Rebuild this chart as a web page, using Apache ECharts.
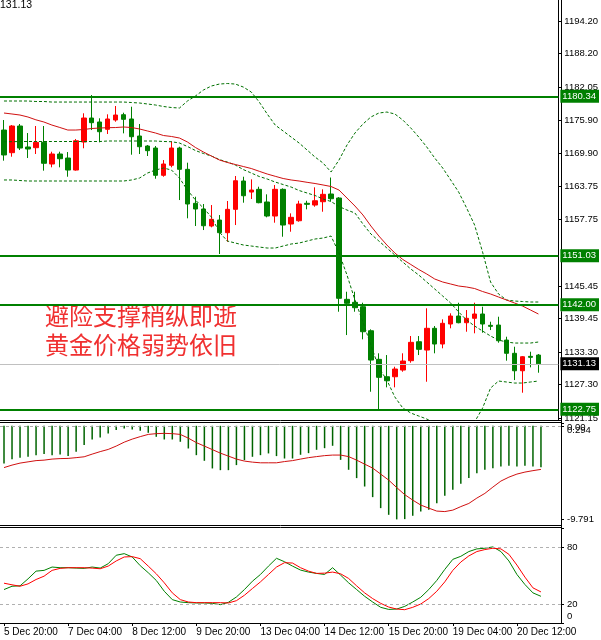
<!DOCTYPE html>
<html><head><meta charset="utf-8">
<script src="https://cdn.jsdelivr.net/npm/echarts@6/dist/echarts.min.js"></script>
<style>html,body{margin:0;padding:0;background:#fff}#c{width:601px;height:640px}</style>
</head><body><div id="c"></div>
<script>
// ---- data ----
const xLabels = ['5 Dec 20:00','7 Dec 04:00','8 Dec 12:00','9 Dec 20:00','13 Dec 04:00','14 Dec 12:00','15 Dec 20:00','19 Dec 04:00','20 Dec 12:00'];
const candleOpen = [1174.14,1169.97,1174.88,1171.02,1170.89,1171.88,1167.89,1169.73,1168.99,1166.78,
1171.93,1176.35,1175.62,1174.27,1175.98,1176.96,1176.17,1173.04,1171.20,1170.83,
1165.81,1167.65,1170.83,1166.91,1160.66,1159.61,1156.48,1157.58,1155.25,1159.55,
1164.76,1162.73,1163.23,1160.90,1158.32,1163.23,1156.85,1157.45,1160.66,1160.34,
1160.95,1162.37,1161.63,1142.99,1142.44,1141.63,1137.21,1131.95,1128.75,1128.75,
1129.98,1131.70,1135.19,1133.66,1137.66,1134.77,1138.45,1139.92,1138.69,1139.50,
1140.29,1138.21,1138.26,1135.50,1133.06,1129.85,1132.50,1132.74];
const candleClose = [1169.55,1174.88,1170.83,1170.65,1171.88,1168.02,1169.73,1168.86,1166.78,1172.17,
1176.35,1175.49,1173.83,1176.17,1176.90,1176.11,1172.91,1171.07,1170.34,1165.81,
1167.89,1170.83,1166.91,1160.53,1159.61,1156.53,1157.71,1155.25,1159.55,1164.81,
1162.05,1163.10,1160.77,1158.32,1163.23,1156.66,1158.08,1160.53,1160.47,1161.13,
1162.31,1161.50,1143.18,1142.26,1141.45,1137.03,1131.82,1128.64,1128.01,1130.17,
1131.64,1135.08,1133.79,1137.66,1134.77,1138.58,1139.92,1138.69,1139.50,1140.29,
1138.45,1138.02,1135.37,1133.06,1129.85,1132.43,1132.32,1131.13];
const candleLow = [1168.50,1169.23,1170.46,1168.99,1169.73,1166.66,1167.28,1167.28,1165.55,1166.66,
1170.78,1174.14,1171.88,1173.41,1175.67,1173.53,1169.60,1169.73,1169.36,1165.18,
1165.55,1167.28,1161.26,1157.90,1156.48,1155.74,1156.24,1151.33,1153.59,1156.66,
1160.77,1161.45,1160.66,1158.08,1157.09,1154.51,1155.43,1157.27,1159.55,1160.03,
1159.11,1160.99,1140.71,1136.42,1140.71,1135.63,1125.99,1122.75,1126.80,1126.80,
1129.67,1131.33,1132.74,1127.83,1133.06,1133.98,1137.66,1138.58,1137.03,1136.74,
1136.85,1137.34,1135.01,1131.70,1128.14,1125.81,1130.48,1129.49];
const candleHigh = [1175.98,1175.06,1175.25,1173.59,1174.88,1174.88,1170.15,1170.15,1170.09,1172.49,
1177.22,1180.58,1176.30,1177.03,1178.56,1177.33,1178.43,1175.25,1171.38,1171.20,
1168.62,1172.06,1171.07,1168.13,1161.87,1160.53,1160.34,1158.50,1161.08,1165.68,
1165.55,1165.07,1163.71,1162.31,1164.02,1163.41,1158.81,1161.13,1161.13,1163.60,
1163.23,1165.40,1161.81,1144.39,1144.39,1142.37,1137.47,1133.06,1132.74,1130.59,
1133.06,1136.24,1136.24,1141.34,1138.08,1139.31,1140.42,1142.37,1141.02,1142.37,
1141.63,1138.87,1139.79,1136.11,1134.27,1132.56,1133.35,1132.93];
const maLine = [1177.27,1177.09,1176.90,1176.54,1176.02,1175.62,1175.06,1174.61,1174.14,1174.14,
1174.24,1174.42,1174.51,1174.57,1174.60,1174.70,1174.60,1174.33,1173.96,1173.59,
1173.13,1172.95,1172.67,1171.94,1170.93,1170.10,1169.36,1168.63,1168.17,1167.80,
1167.43,1167.06,1166.55,1166.05,1165.63,1165.22,1164.95,1164.76,1164.52,1164.30,
1164.03,1163.75,1163.10,1161.63,1160.16,1158.51,1156.48,1154.64,1152.99,1151.51,
1150.32,1149.40,1148.48,1147.65,1146.73,1146.18,1145.81,1145.44,1145.26,1144.98,
1144.43,1143.97,1143.42,1142.87,1142.32,1141.76,1141.03,1140.29];
const bandUpper = [1179.48,1179.48,1179.48,1179.48,1179.39,1179.39,1179.29,1179.29,1179.29,1179.29,
1179.29,1179.29,1179.29,1179.29,1179.29,1179.29,1179.20,1179.11,1178.93,1178.74,
1178.47,1178.28,1178.19,1179.48,1180.40,1181.50,1182.24,1182.60,1182.70,1182.60,
1182.05,1181.13,1179.29,1177.09,1175.06,1173.96,1172.85,1171.75,1170.46,1169.17,
1168.07,1166.41,1168.62,1171.38,1173.59,1175.25,1176.54,1177.27,1177.45,1177.09,
1175.98,1174.51,1172.85,1171.02,1168.99,1167.15,1164.95,1162.73,1159.79,1156.66,
1151.69,1146.18,1143.97,1142.87,1142.68,1142.59,1142.50,1142.50];
const bandMiddle = [1171.99,1171.99,1172.03,1172.03,1172.03,1172.03,1172.03,1172.03,1172.03,1172.03,
1172.03,1172.03,1172.03,1172.12,1172.12,1172.12,1172.12,1172.12,1172.12,1172.12,
1172.03,1171.99,1171.75,1171.11,1170.37,1169.82,1169.36,1168.71,1168.25,1167.70,
1166.87,1166.23,1165.59,1165.13,1164.57,1164.11,1163.65,1163.01,1162.55,1162.09,
1161.45,1160.99,1160.07,1159.42,1158.87,1156.85,1155.01,1153.72,1152.43,1151.14,
1149.85,1148.57,1147.46,1146.18,1144.89,1143.60,1142.31,1140.66,1139.18,1138.08,
1137.16,1136.24,1135.50,1135.14,1134.95,1134.95,1134.95,1135.14];
const bandLower = [1164.95,1164.95,1164.85,1164.76,1164.76,1164.76,1164.76,1164.76,1164.76,1164.76,
1164.76,1164.76,1164.76,1164.76,1164.76,1164.76,1164.95,1165.31,1166.23,1166.78,
1167.15,1166.78,1165.31,1163.10,1161.26,1159.79,1158.13,1155.37,1153.72,1153.35,
1152.99,1152.80,1152.61,1152.43,1152.43,1152.80,1153.17,1153.35,1153.72,1154.09,
1154.27,1154.64,1151.51,1147.46,1142.87,1138.82,1134.58,1130.35,1128.14,1125.02,
1122.99,1122.07,1121.52,1120.97,1120.23,1119.68,1118.94,1118.39,1118.58,1120.42,
1122.99,1126.67,1127.96,1127.78,1127.59,1127.59,1127.78,1127.96];
const macdHist = [-3.94,-3.49,-3.35,-3.24,-3.07,-2.96,-3.07,-3.00,-3.17,-2.72,
-2.02,-1.43,-1.22,-0.80,-0.45,-0.28,-0.38,-0.52,-0.73,-1.15,
-1.43,-1.43,-1.67,-2.37,-3.07,-3.66,-4.46,-4.64,-4.64,-4.11,
-3.59,-3.24,-3.07,-2.89,-3.17,-3.42,-3.42,-3.03,-2.86,-2.51,
-2.34,-2.09,-3.56,-4.60,-5.47,-6.35,-7.46,-8.61,-9.31,-9.79,
-9.76,-9.41,-8.96,-8.79,-8.09,-7.32,-6.69,-6.07,-5.47,-4.95,
-4.60,-4.43,-4.25,-4.18,-4.25,-4.18,-4.25,-4.33];
const macdSignal = [-4.37,-4.11,-3.90,-3.77,-3.64,-3.59,-3.48,-3.43,-3.41,-3.33,
-3.24,-2.96,-2.70,-2.47,-2.12,-1.71,-1.39,-1.13,-0.90,-0.82,
-0.79,-0.82,-0.90,-1.29,-1.76,-2.12,-2.49,-2.86,-3.17,-3.48,
-3.69,-3.80,-3.87,-3.87,-3.87,-3.74,-3.64,-3.48,-3.33,-3.22,
-3.12,-3.06,-3.06,-3.22,-3.59,-4.01,-4.42,-5.05,-5.68,-6.46,
-7.20,-7.77,-8.29,-8.61,-8.92,-8.97,-8.82,-8.45,-8.12,-7.56,
-7.07,-6.41,-5.78,-5.37,-5.05,-4.84,-4.69,-4.56];
const stochMain = [35.2,38.7,39.1,46.5,54.6,55.4,58.9,58.2,58.2,57.8,
57.5,58.9,57.8,62.4,71.3,73.0,69.5,60.3,52.9,44.8,
33.4,24.6,22.1,21.4,21.1,21.1,20.7,19.3,21.8,27.4,
35.2,44.0,51.1,59.9,68.1,64.5,59.9,55.7,53.6,52.2,
51.1,58.2,50.4,42.3,35.2,28.1,22.1,16.5,14.3,14.7,
17.5,22.1,27.1,35.2,44.8,56.4,67.0,70.2,75.2,78.0,
78.7,80.1,75.2,65.3,51.1,40.5,31.7,28.1];
const stochSignal = [41.9,40.2,38.7,41.2,45.8,49.3,55.4,57.5,58.2,58.2,
58.2,57.8,57.1,59.9,65.3,69.5,69.9,67.7,59.9,51.8,
42.3,31.7,24.6,22.1,21.4,21.4,21.4,21.4,21.1,23.5,
29.2,36.3,43.3,51.1,58.9,63.5,63.1,58.2,54.6,52.2,
52.5,53.6,51.8,46.9,39.1,31.7,25.7,20.7,16.8,14.7,
14.0,16.5,20.0,25.7,33.4,43.3,55.4,64.2,70.6,75.2,
77.3,78.7,78.0,72.3,61.0,48.3,37.0,32.7];
const priceTicks = [1121.15,1127.30,1133.30,1139.45,1145.45,1157.75,1163.75,1169.90,1175.90,1182.05,1188.20,1194.20];
const levelLines = [1180.34,1151.03,1142.00,1122.75];
const lastPrice = 1131.13;
const macdRange = [-9.791, 0.294];
const macdZero = [0];
const stochInner = [20, 80];
const stochMax = 100;
const stochEdgeLabels = ['0', '100'];
const titleLines = ['避险支撑稍纵即逝', '黄金价格弱势依旧'];

// ---- chart ----
const SLOTS = 70;
const cats = Array.from({length: SLOTS}, (_, i) => String(i));
const candles = candleOpen.map((o, i) => [o, candleClose[i], candleLow[i], candleHigh[i]]);
const FONT = 'Liberation Sans, Arial, sans-serif';
const PW = 561;
const LS = 9.5;
// MT4 draws the 0 / 100 captions inset from the panel edges
const INSET_BOTTOM = 7;
const rich = {
  dn: {padding: [14, 0, 0, 0], fontSize: LS, color: '#000', fontFamily: FONT},
  dn2: {padding: [4, 0, 0, 0], fontSize: LS, color: '#000', fontFamily: FONT}
};

function xAx(gi, showLabels) {
  const isTick = (idx) => idx % 8 === 0 && idx / 8 < xLabels.length;
  return {
    type: 'category', gridIndex: gi, data: cats, boundaryGap: true,
    axisLine: {show: showLabels, lineStyle: {color: '#000', width: 1}},
    axisTick: {show: showLabels, alignWithLabel: true, interval: (i) => isTick(i), length: 3, lineStyle: {color: '#000'}},
    axisLabel: {show: showLabels, interval: (i) => isTick(i), formatter: (v, i) => isTick(i) ? xLabels[i / 8] : '',
      align: 'left', margin: 4, fontSize: 10, color: '#000', fontFamily: FONT},
    splitLine: {show: false}
  };
}
function yAx(gi, min, max, ticks, fmt, showLine, showTick) {
  return {
    type: 'value', gridIndex: gi, position: 'right', offset: 0, min: min, max: max,
    axisLine: {show: showLine, lineStyle: {color: '#000', width: 1}},
    axisTick: {show: showTick !== false, customValues: ticks, length: 3, lineStyle: {color: '#000'}},
    axisLabel: {show: true, customValues: ticks, formatter: fmt, margin: 6, fontSize: LS, color: '#000', fontFamily: FONT,
      showMinLabel: true, showMaxLabel: true, hideOverlap: false, rich: rich},
    splitLine: {show: false}
  };
}

const levelLabel = (bg) => ({show: true, position: 'end', distance: 2, formatter: (p) => Number(p.value).toFixed(2),
  color: '#fff', backgroundColor: bg, padding: [2, 3, 1, 2], fontSize: LS, fontFamily: FONT});

const MACD_MIN = -10.375, MACD_MAX = 0.294;
const option = {
  animation: false,
  backgroundColor: '#fff',
  grid: [
    {left: 0, top: 0, width: PW, height: 420},
    {left: 0, top: 423, width: PW, height: 102},
    {left: 0, top: 528, width: PW, height: 95}
  ],
  xAxis: [xAx(0, false), xAx(1, false), xAx(2, true)],
  yAxis: [
    yAx(0, 1120.79, 1198.064, priceTicks, (v) => v.toFixed(2), true),
    yAx(1, MACD_MIN, MACD_MAX, macdRange, (v) => v > 0 ? '{dn|' + v.toFixed(3) + '}' : v.toFixed(3), true),
    yAx(2, 0, 100, stochInner.concat([0, 100]), (v) => (v === 0 || v === 100) ? '' : String(v), true),
    yAx(1, MACD_MIN, MACD_MAX, macdZero, () => '{dn2|0.00}', false),
    yAx(2, 0, 100, [INSET_BOTTOM], () => stochEdgeLabels[0], false, false)
  ],
  series: [
    {type: 'line', xAxisIndex: 0, yAxisIndex: 0, data: bandUpper, symbol: 'none', silent: true,
      lineStyle: {color: '#007000', width: 1, type: [3, 2]}},
    {type: 'line', xAxisIndex: 0, yAxisIndex: 0, data: bandMiddle, symbol: 'none', silent: true,
      lineStyle: {color: '#007000', width: 1, type: [3, 2]}},
    {type: 'line', xAxisIndex: 0, yAxisIndex: 0, data: bandLower, symbol: 'none', silent: true,
      lineStyle: {color: '#007000', width: 1, type: [3, 2]}},
    {type: 'line', xAxisIndex: 0, yAxisIndex: 0, data: maLine, symbol: 'none', silent: true,
      lineStyle: {color: '#d01010', width: 1}},
    {type: 'candlestick', xAxisIndex: 0, yAxisIndex: 0, data: candles, barWidth: 5,
      itemStyle: {color: '#ff0000', color0: '#008000', borderColor: '#ff0000', borderColor0: '#008000', borderWidth: 1},
      markLine: {symbol: ['none', 'none'], silent: true, animation: false,
        data: levelLines.map((v) => ({yAxis: v, lineStyle: {color: '#008000', width: 2, type: 'solid'}, label: levelLabel('#008000')}))
          .concat([{yAxis: lastPrice, lineStyle: {color: '#c0c0c0', width: 1, type: 'solid'}, label: levelLabel('#000')}])
      }},
    {type: 'bar', xAxisIndex: 1, yAxisIndex: 1, data: macdHist, barWidth: 1.5, silent: true,
      itemStyle: {color: '#006400'},
      markLine: {symbol: ['none', 'none'], silent: true, label: {show: false},
        data: [{yAxis: 0}], lineStyle: {color: '#a8a8a8', width: 1, type: [3, 3]}}},
    {type: 'line', xAxisIndex: 1, yAxisIndex: 1, data: macdSignal, symbol: 'none', silent: true,
      lineStyle: {color: '#d01010', width: 1}},
    {type: 'line', xAxisIndex: 2, yAxisIndex: 2, data: stochMain, symbol: 'none', silent: true,
      lineStyle: {color: '#008000', width: 1},
      markLine: {symbol: ['none', 'none'], silent: true, label: {show: false},
        data: stochInner.map((v) => ({yAxis: v})), lineStyle: {color: '#b0b0b0', width: 1, type: [3, 3]}}},
    {type: 'line', xAxisIndex: 2, yAxisIndex: 2, data: stochSignal, symbol: 'none', silent: true,
      lineStyle: {color: '#ff0000', width: 1},
      markLine: {symbol: ['none', 'none'], silent: true, animation: false,
        data: [{yAxis: stochMax, lineStyle: {opacity: 0},
          label: {show: true, position: 'end', distance: 6, offset: [0, 7], formatter: stochEdgeLabels[1],
            color: '#000', fontSize: LS, fontFamily: FONT}}]}}
  ],
  graphic: [
    {type: 'line', shape: {x1: 0, y1: 420.5, x2: PW, y2: 420.5}, style: {stroke: '#000', lineWidth: 1}, silent: true},
    {type: 'line', shape: {x1: 0, y1: 422.5, x2: PW, y2: 422.5}, style: {stroke: '#000', lineWidth: 1}, silent: true},
    {type: 'line', shape: {x1: 0, y1: 525.5, x2: PW, y2: 525.5}, style: {stroke: '#000', lineWidth: 1}, silent: true},
    {type: 'line', shape: {x1: 0, y1: 527.5, x2: PW, y2: 527.5}, style: {stroke: '#000', lineWidth: 1}, silent: true},
    {type: 'line', shape: {x1: PW + 0.5, y1: 0, x2: PW + 0.5, y2: 623}, style: {stroke: '#000', lineWidth: 1}, silent: true},
    {type: 'text', left: 0, top: 0, silent: true,
      style: {text: '131.13', fill: '#000', fontSize: 10.5, fontFamily: FONT}},
    {type: 'text', left: 45, top: 304, silent: true,
      style: {text: titleLines[0], fill: '#f03030', fontSize: 24, fontFamily: 'Noto Sans CJK SC'}},
    {type: 'text', left: 45, top: 333, silent: true,
      style: {text: titleLines[1], fill: '#f03030', fontSize: 24, fontFamily: 'Noto Sans CJK SC'}}
  ]
};
const chart = echarts.init(document.getElementById('c'), null, {renderer: 'canvas'});
chart.setOption(option);
</script></body></html>
